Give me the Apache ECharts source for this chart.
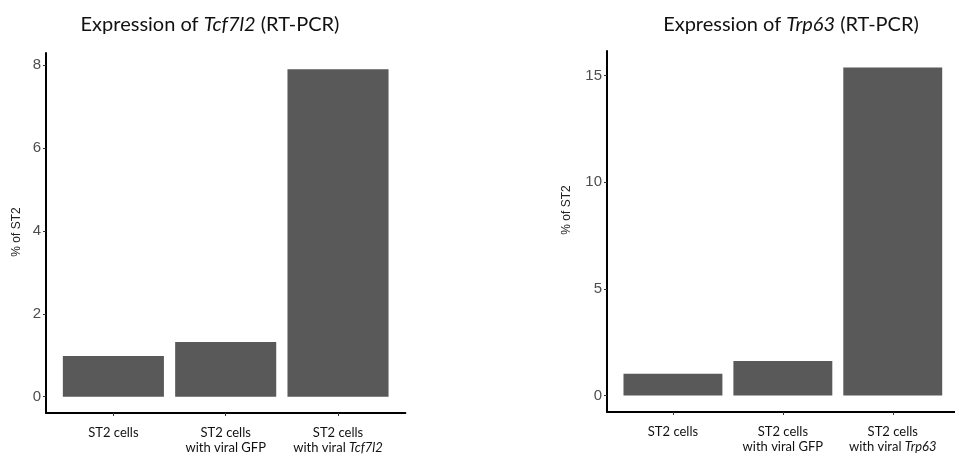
<!DOCTYPE html>
<html>
<head>
<meta charset="utf-8">
<script src="https://cdn.jsdelivr.net/npm/echarts@6/dist/echarts.min.js"></script>
<style>
html,body{margin:0;padding:0;background:#fff;}
#chart{width:955px;height:457px;}
</style>
</head>
<body>
<div id="chart"></div>
<script>
// ---- data ----
const leftCategories = ['ST2 cells', 'ST2 cells\nwith viral GFP', 'ST2 cells\nwith viral {i|Tcf7l2}'];
const leftValues = [0.98, 1.32, 7.9];
const leftTicks = [0, 2, 4, 6, 8];

const rightCategories = ['ST2 cells', 'ST2 cells\nwith viral GFP', 'ST2 cells\nwith viral {i|Trp63}'];
const rightValues = [1.02, 1.62, 15.38];
const rightTicks = [0, 5, 10, 15];

const leftTitle = '{n|Expression of }{i|Tcf7l2}{n| (RT-PCR)}';
const rightTitle = '{n|Expression of }{i|Trp63}{n| (RT-PCR)}';
const yName = '% of ST2';

// ---- styles ----
const labelFont = 'Lato';
const tickFont = '"Liberation Sans", Arial, sans-serif';
const barColor = '#595959';

function titleCfg(text, cx) {
  return {
    text: text,
    left: cx,
    top: 10,
    textAlign: 'center',
    textStyle: {
      fontWeight: 'normal',
      rich: {
        n: { fontFamily: labelFont, fontSize: 20, fontWeight: 'normal', color: '#111' },
        i: { fontFamily: labelFont, fontSize: 20, fontWeight: 'normal', color: '#111', fontStyle: 'italic' }
      }
    }
  };
}

function xAxisCfg(gridIndex, cats) {
  const positions = cats.map((c, i) => i + 1);
  return {
    type: 'value',
    gridIndex: gridIndex,
    min: 0.4,
    max: 3.6,
    splitLine: { show: false },
    axisLine: { show: true, onZero: false, lineStyle: { color: '#000', width: 2 } },
    axisTick: { show: true, length: 3, lineStyle: { color: '#333', width: 1 }, customValues: positions },
    axisLabel: {
      show: true,
      customValues: positions,
      margin: 12,
      formatter: v => cats[Math.round(v) - 1] || '',
      fontFamily: labelFont,
      fontSize: 13,
      lineHeight: 15,
      color: '#111',
      rich: {
        i: { fontFamily: labelFont, fontSize: 13, lineHeight: 15, color: '#111', fontStyle: 'italic' }
      }
    }
  };
}

function yAxisCfg(gridIndex, vals, ticks) {
  const maxV = Math.max(...vals);
  return {
    type: 'value',
    gridIndex: gridIndex,
    min: -maxV * 0.05,
    max: maxV * 1.05,
    splitLine: { show: false },
    axisLine: { show: true, onZero: false, lineStyle: { color: '#000', width: 2 } },
    axisTick: { show: true, length: 3, lineStyle: { color: '#333', width: 1 }, customValues: ticks },
    axisLabel: {
      show: true,
      customValues: ticks,
      margin: 5,
      fontFamily: tickFont,
      fontSize: 15,
      color: '#4d4d4d'
    }
  };
}

function seriesCfg(idx, vals) {
  return {
    type: 'bar',
    xAxisIndex: idx,
    yAxisIndex: idx,
    data: vals.map((v, i) => [i + 1, v]),
    barWidth: '90%',
    itemStyle: { color: barColor },
    silent: true,
    animation: false
  };
}

const chart = echarts.init(document.getElementById('chart'), null, { renderer: 'canvas' });
chart.setOption({
  backgroundColor: '#fff',
  animation: false,
  title: [titleCfg(leftTitle, 205), titleCfg(rightTitle, 786)],
  grid: [
    { left: 46, top: 53, width: 359.4, bottom: 44, outerBoundsMode: 'none', containLabel: false },
    { left: 607, top: 51, width: 351.7, bottom: 45, outerBoundsMode: 'none', containLabel: false }
  ],
  xAxis: [xAxisCfg(0, leftCategories), xAxisCfg(1, rightCategories)],
  yAxis: [yAxisCfg(0, leftValues, leftTicks), yAxisCfg(1, rightValues, rightTicks)],
  series: [seriesCfg(0, leftValues), seriesCfg(1, rightValues)],
  graphic: [
    { type: 'text', x: 17, y: 232, rotation: Math.PI / 2,
      style: { text: yName, align: 'center', verticalAlign: 'middle', fontFamily: tickFont, fontSize: 12, fill: '#222' } },
    { type: 'text', x: 567, y: 210, rotation: Math.PI / 2,
      style: { text: yName, align: 'center', verticalAlign: 'middle', fontFamily: tickFont, fontSize: 12, fill: '#222' } }
  ]
});
</script>
</body>
</html>
